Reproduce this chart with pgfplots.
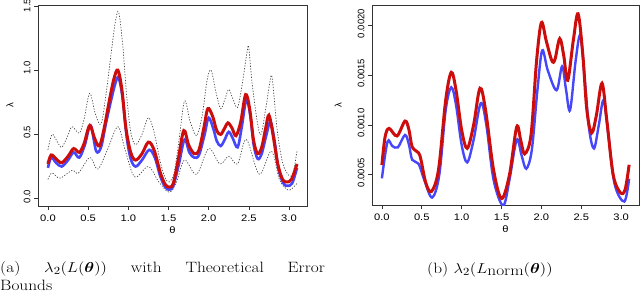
\documentclass[border=0pt]{standalone}
\usepackage{amsmath}
\usepackage{graphicx}
\usepackage{fontspec}
\usepackage{pgfplots}
\pgfplotsset{compat=1.18}
\newfontfamily\rfontx{Liberation Sans}[FakeStretch=1.18]
\newfontfamily\rfonty{Liberation Sans}
\definecolor{rred}{RGB}{205,12,12}
\definecolor{rblue}{RGB}{70,70,250}
\definecolor{rgray}{RGB}{70,70,70}
\pgfplotsset{
  rstyle/.style={
    scale only axis,
    axis line style={line width=0.7bp, black!80},
    tick align=outside, xtick pos=bottom, ytick pos=left,
    major tick length=4bp,
    every tick/.style={black!80, line width=0.6bp},
    xmin=-0.124, xmax=3.224,
    xtick={0,0.5,...,3.0},
    /pgf/number format/assume math mode=true,
    xticklabel style={font=\rfontx\fontsize{9.5}{11}\selectfont, yshift=-1.5bp, /pgf/number format/.cd, fixed, fixed zerofill, precision=1},
    yticklabel style={font=\rfonty\fontsize{9.5}{11}\selectfont, rotate=90, anchor=south, xshift=2bp},
    xlabel={θ}, ylabel={λ},
    every axis x label/.style={at={(axis description cs:0.5,0)}, anchor=center, yshift=-24.5bp, font=\rfontx\fontsize{9.5}{11}\selectfont},
    dotb/.style={rgray, line width=0.7bp, dash pattern=on 1.2bp off 1.6bp, smooth, tension=0.55},
    redl/.style={rred, line width=3bp, smooth, tension=0.55},
    bluel/.style={rblue, line width=2.6bp, smooth, tension=0.55},
  }
}
\begin{document}
\begin{tikzpicture}
\path[use as bounding box] (0,0) rectangle (640bp,-292bp);
% ---------------- left panel ----------------
\begin{axis}[rstyle, at={(38bp,-206bp)}, anchor=south west,
  width=269bp, height=201bp,
  ymin=-0.057, ymax=1.507,
  ytick={0,0.5,1.0,1.5},
  yticklabels={0.0,0.5,1.0,1.5\hspace*{3.5bp}},
  every axis y label/.style={at={(axis description cs:-0.104,0.5)}, anchor=center, rotate=90, font=\rfonty\fontsize{9.5}{11}\selectfont}]
% upper bound
\addplot[dotb] coordinates {
(0.00,0.38) (0.05,0.50) (0.11,0.45) (0.17,0.40) (0.24,0.48) (0.30,0.56) (0.39,0.51) (0.45,0.62) (0.52,0.82) (0.59,0.66) (0.66,0.58)
(0.72,0.80) (0.79,1.15) (0.84,1.38) (0.88,1.45) (0.93,1.20) (0.98,0.80) (1.03,0.52) (1.09,0.42) (1.17,0.50) (1.25,0.63) (1.32,0.52)
(1.40,0.28) (1.46,0.16) (1.51,0.13) (1.57,0.20) (1.63,0.45) (1.70,0.76) (1.77,0.60) (1.85,0.49) (1.92,0.65) (1.98,0.92) (2.03,1.00)
(2.09,0.83) (2.15,0.70) (2.20,0.77) (2.25,0.85) (2.30,0.78) (2.36,0.71) (2.42,0.90) (2.48,1.15) (2.50,1.17) (2.55,0.85) (2.64,0.50)
(2.71,0.70) (2.76,0.90) (2.79,0.94) (2.85,0.55) (2.92,0.28) (3.00,0.18) (3.05,0.20) (3.10,0.37)};
% lower bound
\addplot[dotb] coordinates {
(0.00,0.15) (0.05,0.20) (0.15,0.16) (0.30,0.22) (0.38,0.20) (0.52,0.32) (0.62,0.23) (0.74,0.38) (0.87,0.56) (0.96,0.38)
(1.08,0.17) (1.25,0.25) (1.38,0.13) (1.51,0.05) (1.60,0.13) (1.70,0.30) (1.85,0.19) (2.00,0.39) (2.14,0.27) (2.25,0.33) (2.36,0.27)
(2.47,0.46) (2.63,0.19) (2.78,0.37) (2.88,0.15) (2.98,0.07) (3.04,0.08) (3.10,0.12)};
% blue
\addplot[bluel] coordinates {
(0.00,0.24) (0.04,0.32) (0.10,0.28) (0.17,0.25) (0.25,0.30) (0.32,0.36) (0.39,0.32) (0.46,0.42) (0.53,0.57) (0.60,0.37) (0.66,0.40)
(0.72,0.58) (0.78,0.75) (0.84,0.90) (0.88,0.94) (0.93,0.78) (0.98,0.48) (1.03,0.31) (1.09,0.25) (1.17,0.30) (1.26,0.38) (1.33,0.32)
(1.40,0.17) (1.46,0.09) (1.51,0.07) (1.56,0.10) (1.63,0.27) (1.70,0.46) (1.76,0.36) (1.82,0.32) (1.88,0.34) (1.95,0.50) (2.00,0.63)
(2.06,0.54) (2.10,0.45) (2.15,0.41) (2.20,0.46) (2.25,0.52) (2.30,0.47) (2.36,0.40) (2.41,0.55) (2.47,0.77) (2.52,0.64) (2.56,0.42)
(2.61,0.31) (2.66,0.35) (2.72,0.50) (2.77,0.60) (2.82,0.45) (2.87,0.23) (2.93,0.12) (2.98,0.10) (3.04,0.12) (3.10,0.24)};
% red
\addplot[redl] coordinates {
(0.00,0.27) (0.04,0.34) (0.10,0.31) (0.17,0.28) (0.25,0.33) (0.32,0.39) (0.39,0.36) (0.45,0.43) (0.52,0.57) (0.58,0.47) (0.64,0.41)
(0.70,0.55) (0.76,0.75) (0.82,0.93) (0.87,1.00) (0.92,0.85) (0.97,0.55) (1.03,0.36) (1.09,0.30) (1.17,0.35) (1.25,0.44) (1.32,0.38)
(1.40,0.20) (1.46,0.11) (1.51,0.09) (1.56,0.12) (1.62,0.30) (1.69,0.53) (1.75,0.42) (1.82,0.35) (1.88,0.38) (1.94,0.55) (1.99,0.70)
(2.05,0.64) (2.10,0.53) (2.15,0.50) (2.20,0.55) (2.24,0.59) (2.29,0.55) (2.34,0.49) (2.40,0.60) (2.46,0.81) (2.51,0.70) (2.56,0.45)
(2.61,0.35) (2.66,0.40) (2.71,0.55) (2.75,0.65) (2.80,0.50) (2.86,0.27) (2.92,0.15) (2.97,0.13) (3.03,0.15) (3.10,0.27)};
\end{axis}
% ---------------- right panel ----------------
\begin{axis}[rstyle, at={(372bp,-205bp)}, anchor=south west,
  width=267bp, height=200bp,
  ymin=0.000195, ymax=0.002208,
  scaled y ticks=false,
  ytick={0.0005,0.0010,0.0015,0.0020},
  yticklabels={0.0005,0.0010,0.0015,0.0020},
  every axis y label/.style={at={(axis description cs:-0.127,0.5)}, anchor=center, rotate=90, font=\rfonty\fontsize{9.5}{11}\selectfont}]
\addplot[bluel, line width=2.4bp] coordinates {
(0.00,0.000463) (0.07,0.00083) (0.13,0.00079) (0.20,0.000775) (0.29,0.00090) (0.34,0.00080) (0.38,0.00065) (0.46,0.00061) (0.53,0.00045) (0.63,0.00027)
(0.72,0.00050) (0.80,0.00115) (0.87,0.00138) (0.93,0.00120) (1.00,0.00080) (1.07,0.000624) (1.15,0.00085) (1.24,0.00122) (1.31,0.00100)
(1.40,0.00045) (1.52,0.00019) (1.60,0.00045) (1.69,0.00085) (1.75,0.00070) (1.81,0.00056) (1.88,0.00075) (1.95,0.00135) (2.01,0.00175)
(2.08,0.00155) (2.19,0.00135) (2.26,0.00159) (2.31,0.00135) (2.36,0.00115) (2.43,0.00165) (2.49,0.00190) (2.55,0.00140) (2.60,0.00095)
(2.66,0.000765) (2.72,0.00100) (2.78,0.00125) (2.84,0.00090) (2.92,0.00040) (3.04,0.00023) (3.10,0.00046)};
\addplot[redl, line width=3bp] coordinates {
(0.00,0.000597) (0.04,0.00088) (0.09,0.000966) (0.19,0.00089) (0.29,0.00104) (0.34,0.00095) (0.38,0.00078) (0.46,0.00072) (0.49,0.00065) (0.55,0.00042) (0.62,0.00033)
(0.71,0.00055) (0.80,0.00125) (0.87,0.00153) (0.93,0.00135) (1.00,0.00095) (1.07,0.000765) (1.15,0.00100) (1.23,0.00137) (1.30,0.00115)
(1.40,0.00055) (1.50,0.00026) (1.60,0.00050) (1.69,0.00098) (1.74,0.00085) (1.79,0.00071) (1.87,0.00090) (1.94,0.00165) (2.00,0.00203)
(2.06,0.00185) (2.13,0.00165) (2.17,0.00166) (2.23,0.00187) (2.28,0.00170) (2.33,0.00145) (2.40,0.00185) (2.46,0.00212) (2.52,0.00170)
(2.57,0.00115) (2.63,0.00092) (2.69,0.00110) (2.76,0.00142) (2.82,0.00105) (2.90,0.00050) (2.99,0.00032) (3.05,0.00035) (3.10,0.00060)};
\end{axis}
% ---------------- captions ----------------
\node[anchor=base west, inner sep=0] at (0,-272bp) {\scalebox{1.16}[1]{\fontsize{15}{18}\selectfont\makebox[280bp][s]{(a) $\lambda_2(L(\boldsymbol{\theta}))$ with Theoretical Error}}};
\node[anchor=base west, inner sep=0] at (0,-290bp) {\scalebox{1.16}[1]{\fontsize{15}{18}\selectfont Bounds}};
\node[anchor=base west, inner sep=0] at (427bp,-273bp) {\scalebox{1.16}[1]{\fontsize{15}{18}\selectfont (b) $\lambda_2(L$\raisebox{-2bp}{norm}$(\boldsymbol{\theta}))$}};
\end{tikzpicture}
\end{document}
